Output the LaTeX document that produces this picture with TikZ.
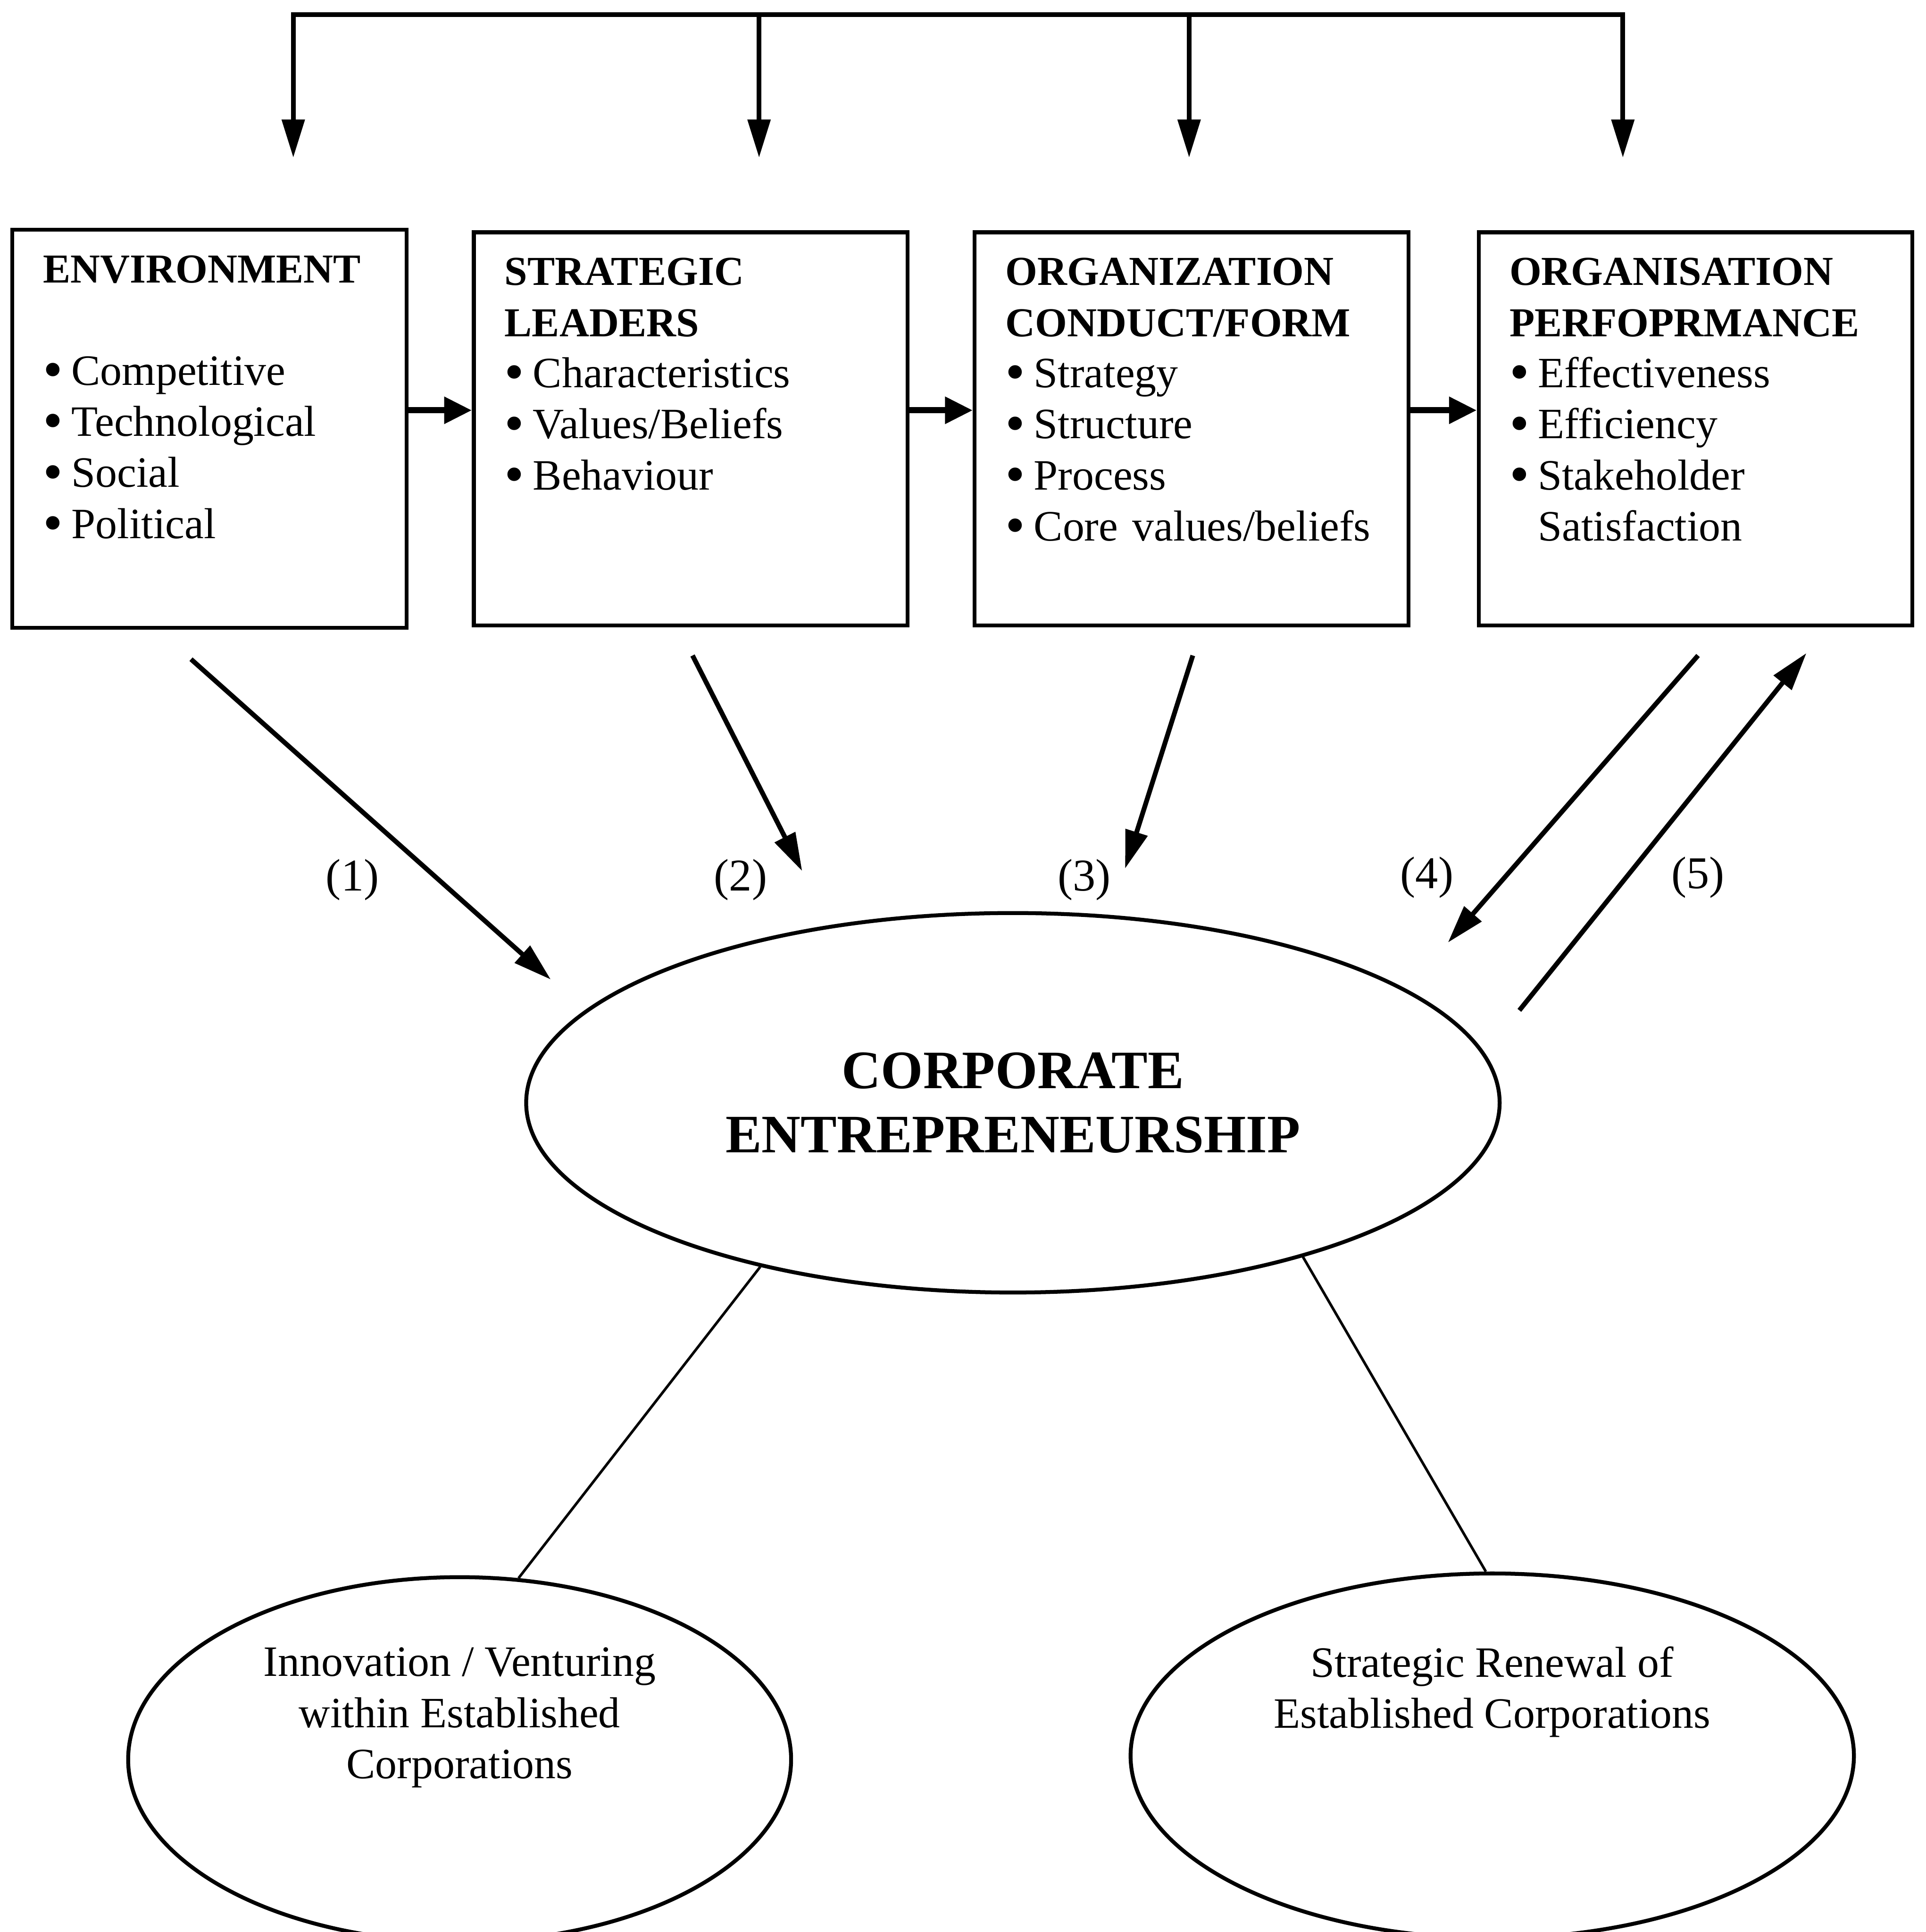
\documentclass[tikz,border=0pt]{standalone}
\usepackage{fontspec}
\setmainfont{Liberation Serif}
\usetikzlibrary{arrows.meta,shapes.geometric}

\newcommand{\boxhead}[1]{{\fontsize{19}{23.6}\selectfont\bfseries #1}}
\newcommand{\blt}{\smash{\raisebox{-0.08em}{\scalebox{1.3}{\textbullet}}}\hspace{0.2em}}

\begin{document}
\begin{tikzpicture}[
    >={Triangle[length=0.62cm,width=0.36cm]},
    font=\fontsize{20}{23.6}\selectfont,
    factor/.style={rectangle,draw=black,line width=1.8pt,text width=6.04cm,align=left,inner xsep=0.5cm,inner ysep=0.36cm,text height=0.5cm,text depth=5.16cm},
    wide/.style={ellipse,draw=black,line width=1.8pt,inner sep=0pt},
    flow/.style={line width=2.2pt},
    push/.style={line width=2.8pt,-{Triangle[length=0.45cm,width=0.42cm]}},
    tie/.style={line width=1.2pt},
    numlabel/.style={inner sep=0pt,font=\fontsize{21}{24}\selectfont}]
    \useasboundingbox (0,0) rectangle (31.26,-31.36);
    % the four factors
    \node[factor, text width=5.4cm, text depth=5.24cm] (env) at (3.4,-6.96) {\boxhead{ENVIRONMENT}\\[23.6pt]
        \blt Competitive\\ \blt Technological\\ \blt Social\\ \blt Political};
    \node[factor, right of = env, node distance=7.81cm] (lead) {\boxhead{STRATEGIC}\\ \boxhead{LEADERS}\\
        \blt Characteristics\\ \blt Values/Beliefs\\ \blt Behaviour};
    \node[factor, right of = lead, node distance=8.13cm] (org) {\boxhead{ORGANIZATION}\\ \boxhead{CONDUCT/FORM}\\
        \blt Strategy\\ \blt Structure\\ \blt Process\\ \mbox{\blt Core values/beliefs}};
    \node[factor, right of = org, node distance=8.18cm] (perf) {\boxhead{ORGANISATION}\\ \boxhead{PERFOPRMANCE}\\
        \blt Effectiveness\\ \blt Efficiency\\ \blt Stakeholder\\ \hphantom{\blt}Satisfaction};
    \path[push] ([yshift=3mm]env.east) edge ([yshift=3mm]lead.west);
    \path[push] ([yshift=3mm]lead.east) edge ([yshift=3mm]org.west);
    \path[push] ([yshift=3mm]org.east) edge ([yshift=3mm]perf.west);
    % feedback bus on top
    \coordinate (bus1) at (4.76,-0.24);
    \coordinate (bus2) at (12.32,-0.24);
    \coordinate (bus3) at (19.30,-0.24);
    \coordinate (bus4) at (26.34,-0.24);
    \coordinate (drop1) at (4.76,-2.56);
    \coordinate (drop2) at (12.32,-2.56);
    \coordinate (drop3) at (19.30,-2.56);
    \coordinate (drop4) at (26.34,-2.56);
    \draw[flow, line cap=rect] (bus1) -- (bus4);
    \path[flow, ->] (bus1) edge (drop1);
    \path[flow, ->] (bus2) edge (drop2);
    \path[flow, ->] (bus3) edge (drop3);
    \path[flow, ->] (bus4) edge (drop4);
    % corporate entrepreneurship
    \node[wide, minimum width=15.8cm, minimum height=6.16cm, align=center, font=\fontsize{25}{29.5}\selectfont\bfseries] (ce) at (16.44,-17.9) {CORPORATE\\ENTREPRENEURSHIP};
    \node[wide, minimum width=10.76cm, minimum height=5.92cm] (inno) at (7.46,-28.56) {};
    \node[align=center] (innotext) at ([yshift=0.68cm]inno.center) {Innovation / Venturing\\within Established\\Corporations};
    \node[wide, minimum width=11.74cm, minimum height=5.92cm] (renew) at (24.22,-28.5) {};
    \node[align=center] (renewtext) at ([yshift=1.04cm]renew.center) {Strategic Renewal of\\Established Corporations};
    \draw[tie] (ce.213) -- (inno.72);
    \draw[tie] (ce.332) -- (renew.92);
    % numbered influences
    \coordinate (from1) at (3.10,-10.70);
    \coordinate (to1) at (8.94,-15.90);
    \coordinate (from2) at (11.24,-10.64);
    \coordinate (to2) at (13.02,-14.14);
    \coordinate (from3) at (19.36,-10.64);
    \coordinate (to3) at (18.26,-14.10);
    \coordinate (from4) at (27.56,-10.64);
    \coordinate (to4) at (23.50,-15.30);
    \coordinate (from5) at (24.66,-16.40);
    \coordinate (to5) at (29.32,-10.60);
    \path[flow, ->] (from1) edge (to1);
    \path[flow, ->] (from2) edge (to2);
    \path[flow, ->] (from3) edge (to3);
    \path[flow, ->] (from4) edge (to4);
    \path[flow, ->] (from5) edge (to5);
    \node[numlabel] (n1) at (5.72,-14.28) {(1)};
    \node[numlabel] (n2) at (12.02,-14.28) {(2)};
    \node[numlabel] (n3) at (17.60,-14.28) {(3)};
    \node[numlabel] (n4) at (23.16,-14.24) {(4)};
    \node[numlabel] (n5) at (27.56,-14.24) {(5)};
\end{tikzpicture}
\end{document}
